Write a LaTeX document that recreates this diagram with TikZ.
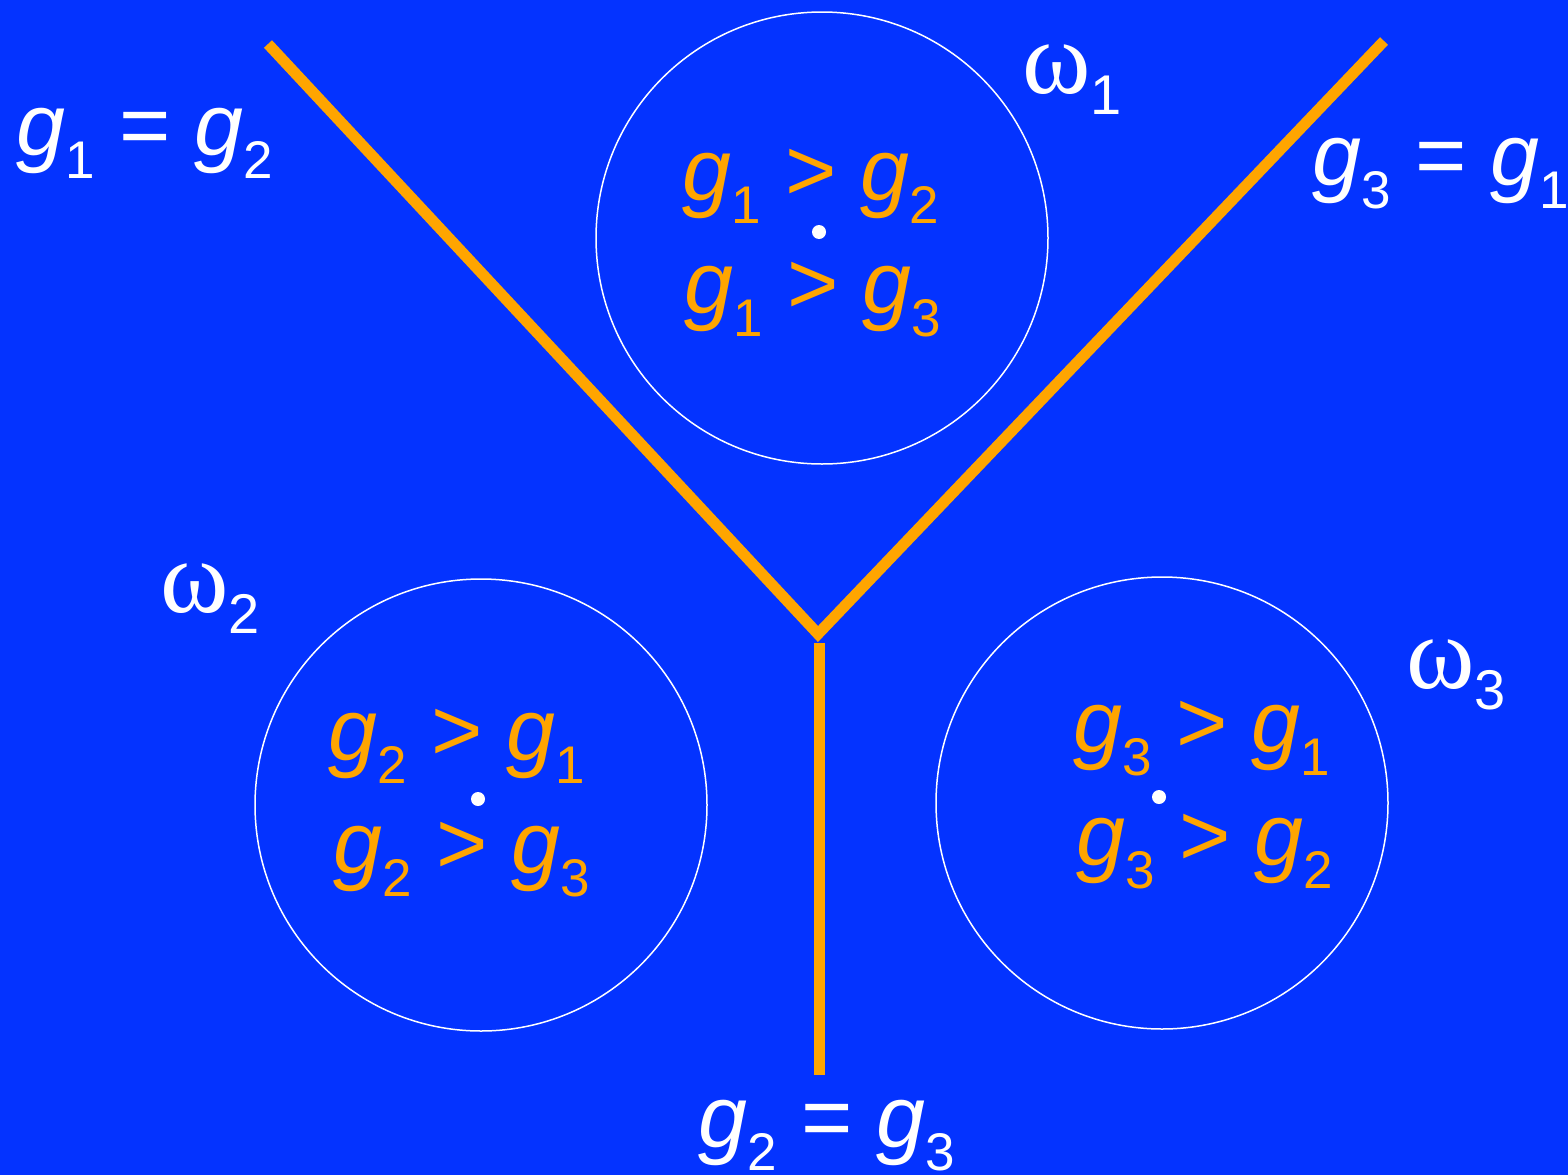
\documentclass[tikz,border=0pt]{standalone}
\usepackage{fontspec}
\setmainfont{Liberation Sans}
\newfontfamily\seriffont{Liberation Serif}
\definecolor{bg}{HTML}{0433FF}
\definecolor{org}{HTML}{FFA500}
\newcommand\Sub[1]{\raisebox{-0.27em}{\fontsize{53}{53}\selectfont #1}}
\newcommand\G[1]{\textit{g}\Sub{#1}}
\newcommand\W[1]{{\fontsize{104}{104}\selectfont\seriffont ω}\raisebox{-0.24em}{\fontsize{56}{56}\selectfont #1}}
\begin{document}
\begin{tikzpicture}[x=1pt,y=-1pt,
  lbl/.style={inner sep=0pt, anchor=base west, font=\fontsize{88}{92}\selectfont},
  wlbl/.style={lbl, text=white},
  olbl/.style={lbl, text=org},
  ring/.style={circle, draw=white, line width=1.5pt, minimum size=452pt, inner sep=0pt},
  dot/.style={circle, fill=white, minimum size=14pt, inner sep=0pt},
  bound/.style={draw=org, line width=11pt}]
\fill[bg] (0,0) rectangle (1568,1175);
\useasboundingbox (0,0) rectangle (1568,1175);
% circles
\node[ring] (c1) at (822,238) {};
\node[ring] (c2) at (481,805) {};
\node[ring] (c3) at (1162,803) {};
% dots
\node[dot] (d1) at (819,232) {};
\node[dot] (d2) at (478,799) {};
\node[dot] (d3) at (1159,797) {};
% boundaries
\coordinate (L) at (268,44);
\coordinate (R) at (1384,41);
\coordinate (J) at (818,634);
\coordinate (J2) at (819,643);
\coordinate (B) at (819,1075);
\draw[bound, line join=miter] (L) -- (J) -- (R);
\draw[bound] (J2) -- (B);
% white labels
\node[wlbl] (e12) at (16,155) {\G{1} = \G{2}};
\node[wlbl] (e31) at (1312,185) {\G{3} = \G{1}};
\node[wlbl] (e23) at (698,1147) {\G{2} = \G{3}};
\node[wlbl] (w1) at (1022,93) {\W{1}};
\node[wlbl] (w2) at (160,612) {\W{2}};
\node[wlbl] (w3) at (1406,688) {\W{3}};
% orange labels
\node[olbl] (a1) at (682,200) {\G{1} > \G{2}};
\node[olbl] (a2) at (684,313) {\G{1} > \G{3}};
\node[olbl] (b1) at (328,760) {\G{2} > \G{1}};
\node[olbl] (b2) at (333,873) {\G{2} > \G{3}};
\node[olbl] (c1t) at (1073,752) {\G{3} > \G{1}};
\node[olbl] (c2t) at (1076,865) {\G{3} > \G{2}};
\end{tikzpicture}
\end{document}
